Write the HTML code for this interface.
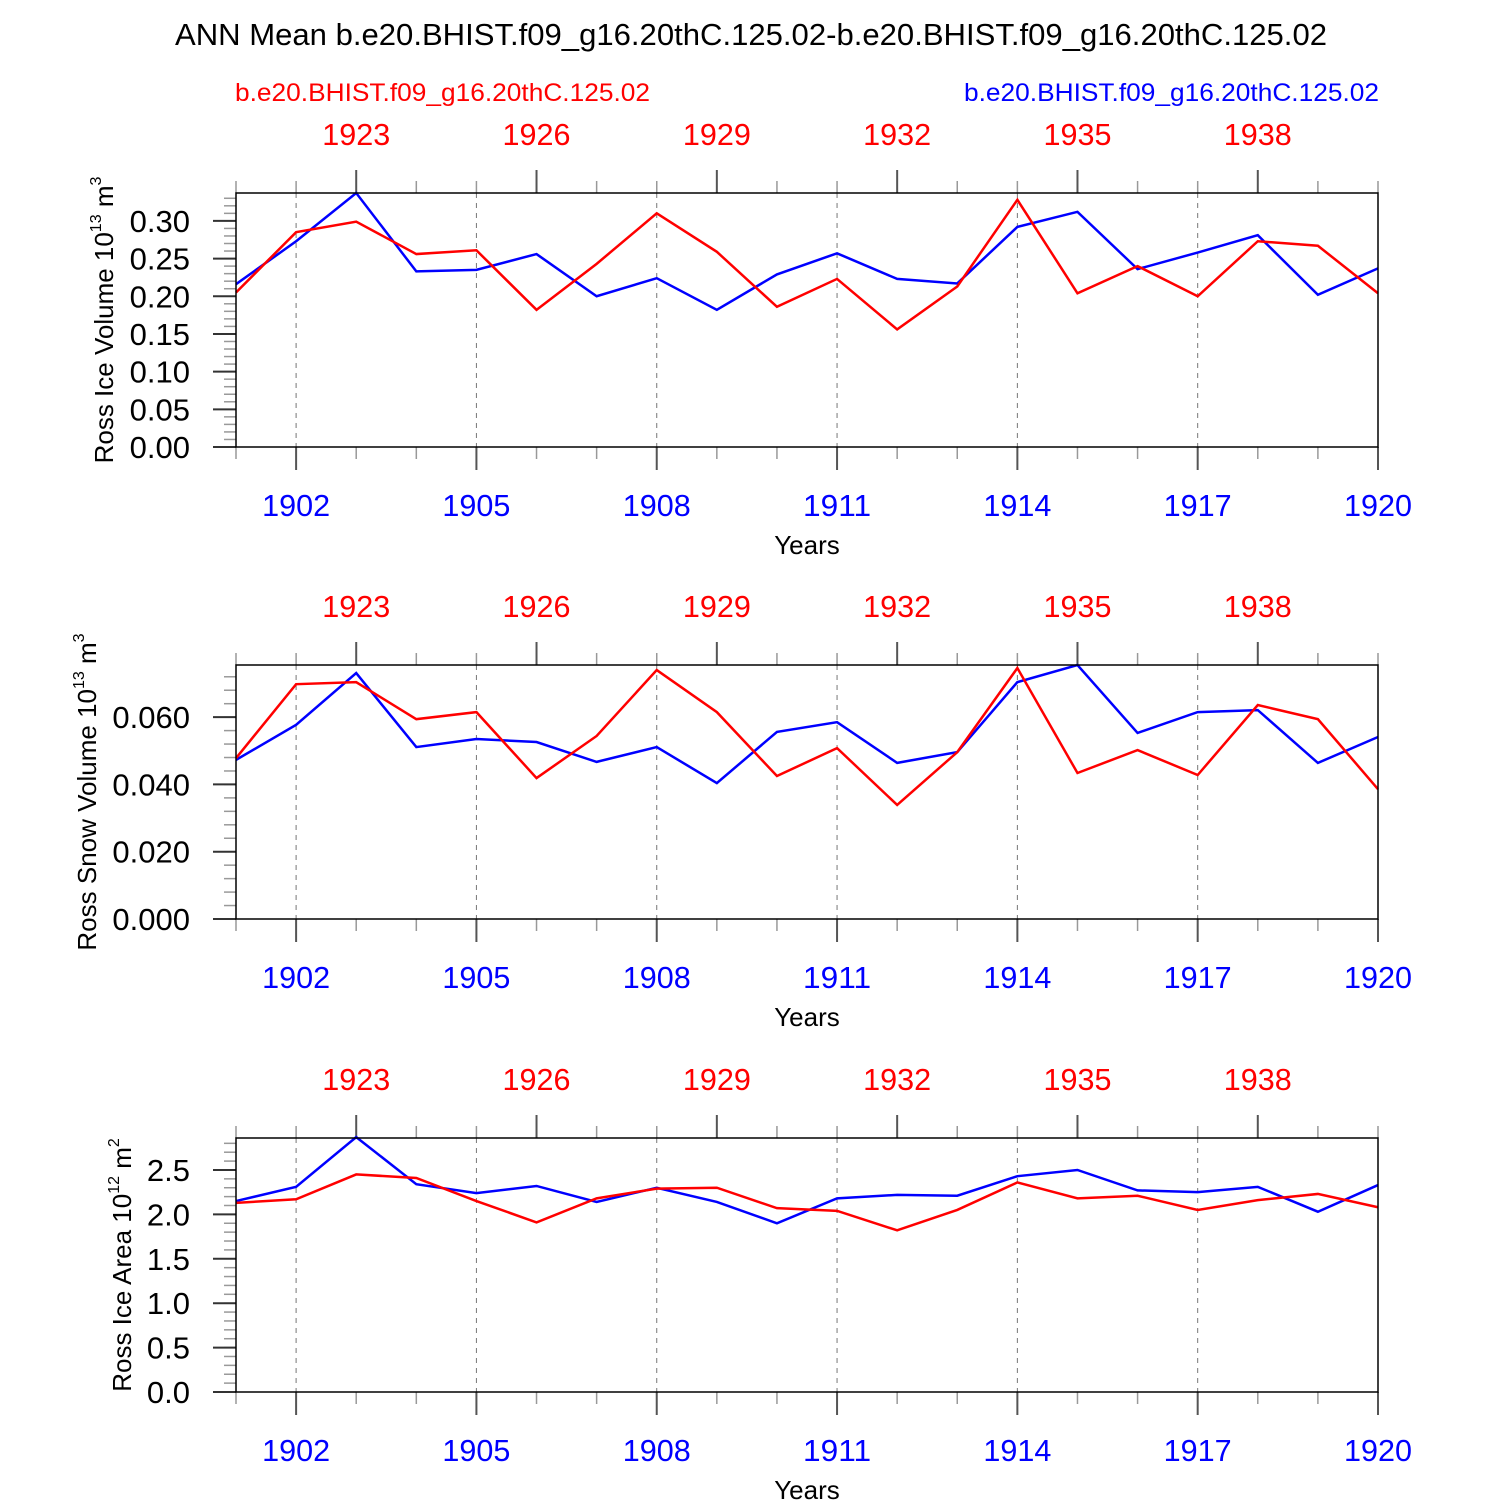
<!DOCTYPE html>
<html><head><meta charset="utf-8"><style>html,body{margin:0;padding:0;background:#fff}svg{display:block}text{font-family:"Liberation Sans",sans-serif}</style></head>
<body>
<svg id="chart" width="1500" height="1500" xmlns="http://www.w3.org/2000/svg">
<text x="751" y="45" font-size="31" text-anchor="middle" textLength="1152" lengthAdjust="spacingAndGlyphs">ANN Mean b.e20.BHIST.f09_g16.20thC.125.02-b.e20.BHIST.f09_g16.20thC.125.02</text>
<text x="235" y="101" font-size="25" fill="#ff0000" textLength="415" lengthAdjust="spacingAndGlyphs">b.e20.BHIST.f09_g16.20thC.125.02</text>
<text x="964" y="101" font-size="25" fill="#0000ff" textLength="415" lengthAdjust="spacingAndGlyphs">b.e20.BHIST.f09_g16.20thC.125.02</text>
</svg>
<script>
const years = [1901,1902,1903,1904,1905,1906,1907,1908,1909,1910,1911,1912,1913,1914,1915,1916,1917,1918,1919,1920];
const bottomTickYears = [1902,1905,1908,1911,1914,1917,1920];
const topTickLabels = [1923,1926,1929,1932,1935,1938];
const iceVolBlue = [0.216,0.273,0.337,0.233,0.235,0.256,0.200,0.224,0.182,0.229,0.257,0.223,0.217,0.292,0.312,0.236,0.258,0.281,0.202,0.237];
const iceVolRed  = [0.205,0.285,0.299,0.256,0.261,0.182,0.243,0.310,0.259,0.186,0.223,0.156,0.213,0.328,0.204,0.240,0.200,0.273,0.267,0.204];
const snowVolBlue = [0.0473,0.0577,0.0731,0.0511,0.0535,0.0526,0.0467,0.0511,0.0404,0.0556,0.0585,0.0464,0.0496,0.0704,0.0755,0.0553,0.0615,0.0621,0.0464,0.0541];
const snowVolRed  = [0.0478,0.0698,0.0704,0.0594,0.0615,0.0419,0.0544,0.0740,0.0615,0.0425,0.0508,0.0339,0.0496,0.0746,0.0434,0.0502,0.0428,0.0636,0.0594,0.0386];
const iceAreaBlue = [2.15,2.31,2.87,2.34,2.24,2.32,2.14,2.30,2.14,1.90,2.18,2.22,2.21,2.43,2.50,2.27,2.25,2.31,2.03,2.33];
const iceAreaRed  = [2.13,2.17,2.45,2.41,2.15,1.91,2.18,2.29,2.30,2.07,2.04,1.82,2.05,2.36,2.18,2.21,2.05,2.16,2.23,2.08];
const iceVolTicks = ["0.00","0.05","0.10","0.15","0.20","0.25","0.30"];
const snowVolTicks = ["0.000","0.020","0.040","0.060"];
const iceAreaTicks = ["0.0","0.5","1.0","1.5","2.0","2.5"];

const NS="http://www.w3.org/2000/svg";
const svg=document.getElementById('chart');
function mk(tag,attrs,parent){const e=document.createElementNS(NS,tag);for(const k in attrs)e.setAttribute(k,attrs[k]);(parent||svg).appendChild(e);return e;}
const X0=236,X1=1378;
function xs(yr){return X0+(yr-years[0])/(years[years.length-1]-years[0])*(X1-X0);}

function panel(cfg){
  const g=mk('g',{});
  
  
  const top=cfg.top,bot=cfg.top+254;
  const ys=v=>bot-(v-cfg.ymin)/(cfg.ymax-cfg.ymin)*(bot-top);
  bottomTickYears.forEach(yr=>{ if(yr<1920){const l=mk('line',{x1:xs(yr),x2:xs(yr),y1:top,y2:bot,stroke:'#777','stroke-width':1,'stroke-dasharray':'5,5'},g);
    }});
  years.forEach(yr=>{
    const x=xs(yr);
    const bm=bottomTickYears.includes(yr), tm=topTickLabels.includes(yr+20);
    const b=mk('line',{x1:x,x2:x,y1:bot,y2:bot+(bm?23:12),stroke:bm?'#555':'#999','stroke-width':bm?2:1.5},g);
    
    const t=mk('line',{x1:x,x2:x,y1:top,y2:top-(tm?23:12),stroke:tm?'#555':'#999','stroke-width':tm?2:1.5},g);
    
  });
  bottomTickYears.forEach(yr=>{const t=mk('text',{x:xs(yr),y:bot+69,'font-size':31,fill:'#0000ff','text-anchor':'middle',textLength:68,lengthAdjust:'spacingAndGlyphs'},g);t.textContent=yr;
    });
  topTickLabels.forEach(yr=>{const t=mk('text',{x:xs(yr-20),y:top-48,'font-size':31,fill:'#ff0000','text-anchor':'middle',textLength:68,lengthAdjust:'spacingAndGlyphs'},g);t.textContent=yr;
    });
  for(let v=cfg.ymin;v<=cfg.ymax+1e-9;v+=cfg.minor){const y=ys(v);
    const l=mk('line',{x1:X0-12,x2:X0,y1:y,y2:y,stroke:'#999','stroke-width':1.5},g);
    }
  cfg.ticks.forEach(s=>{const y=ys(parseFloat(s));
    const l=mk('line',{x1:X0-23,x2:X0,y1:y,y2:y,stroke:'#333','stroke-width':2},g);
    
    const t=mk('text',{x:X0-46,y:y+11,'font-size':31,'text-anchor':'end'},g);t.textContent=s;
    });
  [[cfg.blue,'#0000ff','series-blue'],[cfg.red,'#ff0000','series-red']].forEach(([arr,c,n])=>{
    const p=mk('polyline',{points:arr.map((v,i)=>xs(years[i])+','+ys(v)).join(' '),fill:'none',stroke:c,'stroke-width':2.5,'stroke-linejoin':'miter'},g);
    });
  const r=mk('rect',{x:X0,y:top,width:X1-X0,height:bot-top,fill:'none',stroke:'#000','stroke-width':1.5},g);
  
  const xt=mk('text',{x:807,y:bot+107,'font-size':26,'text-anchor':'middle'},g);xt.textContent='Years';
  
  const yt=mk('text',{transform:`translate(${cfg.ytx},${cfg.ytc}) rotate(-90)`,'font-size':26,'text-anchor':'middle'},g);
  yt.innerHTML=cfg.ylabel;
  
}
panel({name:'ice-volume-panel',top:193,ymin:0,ymax:0.337,minor:0.01,ticks:iceVolTicks,blue:iceVolBlue,red:iceVolRed,ytx:113,ytc:320,
  ylabel:'Ross Ice Volume 10<tspan font-size="16" dy="-12">13</tspan><tspan dy="12"> m</tspan><tspan font-size="16" dy="-12">3</tspan>'});
panel({name:'snow-volume-panel',top:665,ymin:0,ymax:0.0755,minor:0.004,ticks:snowVolTicks,blue:snowVolBlue,red:snowVolRed,ytx:96,ytc:792,
  ylabel:'Ross Snow Volume 10<tspan font-size="16" dy="-12">13</tspan><tspan dy="12"> m</tspan><tspan font-size="16" dy="-12">3</tspan>'});
panel({name:'ice-area-panel',top:1138,ymin:0,ymax:2.86,minor:0.1,ticks:iceAreaTicks,blue:iceAreaBlue,red:iceAreaRed,ytx:131,ytc:1265,
  ylabel:'Ross Ice Area 10<tspan font-size="16" dy="-12">12</tspan><tspan dy="12"> m</tspan><tspan font-size="16" dy="-12">2</tspan>'});
</script>
</body></html>
